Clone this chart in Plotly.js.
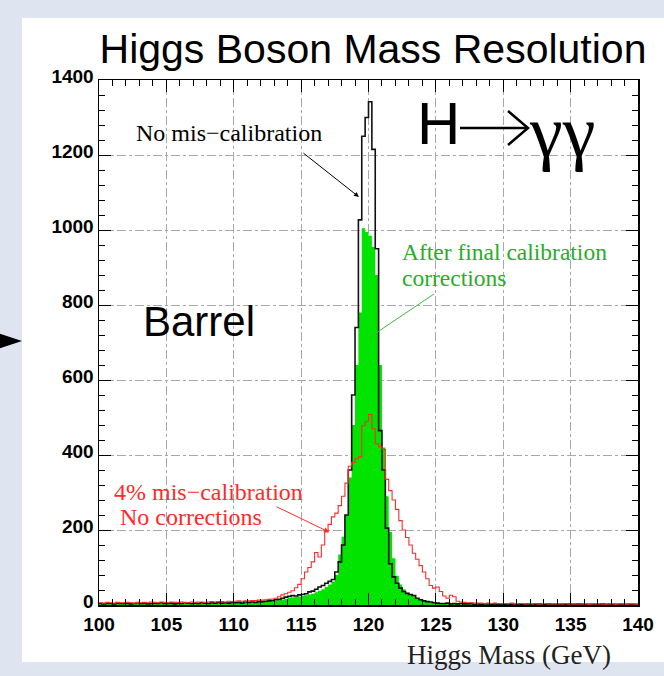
<!DOCTYPE html>
<html>
<head>
<meta charset="utf-8">
<script src="https://cdn.plot.ly/plotly-3.0.1.min.js"></script>
<style>html,body{margin:0;padding:0;background:#dee5f1;}#chart{width:664px;height:676px;}</style>
</head>
<body>
<div id="chart"></div>
<script>
// Histogram binning (GeV)
const binStart = 100;
const binWidth = 0.25;

// No mis-calibration (black outline), 0.25 GeV bins from 100 to 140
const noMiscal = [
  4,3,5,4, 3,5,4,4, 5,3,4,6, 4,5,3,4, 5,4,6,4,
  4,5,3,5, 4,6,5,4, 5,4,6,5, 4,6,5,7, 5,6,5,6,
  6,7,5,8, 7,8,7,9, 9,10,11,12, 14,15,18,21, 23,25,24,27,
  28,30,35,37, 42,48,52,58, 63,68,88,115, 160,240,360,560, 740,1027,1250,1300,
  1342,1215,950,465, 360,205,110,75, 58,45,36,31, 28,25,18,14, 11,9,8,6,
  5,4,4,5, 3,4,3,4, 3,3,4,2, 3,2,3,3, 2,3,2,3,
  2,3,2,2, 3,2,2,3, 2,2,3,2, 2,3,2,2, 2,2,2,3,
  2,2,3,2, 2,2,2,2, 2,3,2,2, 2,2,2,2, 2,2,2,2
];

// After final calibration corrections (green fill)
const afterCalib = [
  3,4,3,4, 4,3,4,3, 4,4,3,5, 3,4,4,3, 4,5,4,4,
  3,4,4,5, 4,5,4,4, 5,4,5,4, 4,5,5,6, 5,5,6,5,
  6,6,5,7, 6,7,7,8, 8,9,10,11, 12,13,15,17, 19,20,22,23,
  24,26,28,30, 34,38,42,48, 55,62,80,135, 182,240,340,480, 640,780,1005,995,
  985,955,880,640, 420,290,195,125, 78,55,42,33, 27,22,18,14, 11,9,7,5,
  4,4,3,4, 3,3,3,2, 3,2,3,2, 2,3,2,2, 2,2,3,2,
  2,2,2,2, 2,3,2,2, 2,2,2,2, 2,2,2,2, 2,2,2,2,
  2,2,2,2, 2,2,2,2, 2,2,2,2, 2,2,2,2, 2,2,2,2
];

// 4% mis-calibration, no corrections (red outline)
const miscal4 = [
  6,5,7,6, 5,7,6,6, 7,6,5,7, 6,7,6,8, 7,6,8,7,
  6,8,7,7, 8,7,6,8, 7,8,8,7, 8,9,8,9, 9,8,10,9,
  10,11,10,11, 11,12,12,13, 13,14,15,16, 18,22,27,30, 34,38,46,55,
  70,88,100,115, 140,128,160,195, 215,235,245,265, 290,325,370,380, 390,395,478,490,
  508,470,430,422, 415,335,305,280, 255,225,200,180, 160,138,122,105, 88,70,52,45,
  48,36,24,18, 26,22,10,8, 7,6,6,5, 5,5,4,5, 4,5,4,4,
  4,4,5,3, 4,4,3,4, 3,4,3,3, 4,3,3,3, 3,3,4,3,
  3,3,3,3, 3,2,3,3, 3,3,2,3, 3,2,3,3, 2,3,3,2
];

const xTickVals = [100,105,110,115,120,125,130,135,140];
const yTickVals = [0,200,400,600,800,1000,1200,1400];

// step-histogram helpers
const edges = noMiscal.map((_, i) => binStart + i * binWidth).concat([binStart + noMiscal.length * binWidth]);
const stepY = arr => arr.concat([arr[arr.length - 1]]);

// plot-area pixel geometry -> paper coordinates
const L = 99, R = 638, T = 80, B = 605;
const px = x => (x - L) / (R - L);
const py = y => (B - y) / (B - T);

const SANS = "'Liberation Sans', Arial, Helvetica, sans-serif";
const SERIF = "'Liberation Serif', 'Times New Roman', Times, serif";

const traces = [
  {x: edges, y: stepY(afterCalib), type: 'scatter', mode: 'lines', line: {shape: 'hv', width: 0, color: '#00e400'},
   fill: 'tozeroy', fillcolor: '#00e400', hoverinfo: 'skip'},
  {x: edges, y: stepY(noMiscal), type: 'scatter', mode: 'lines', line: {shape: 'hv', width: 1.6, color: '#111111'}},
  {x: edges, y: stepY(miscal4), type: 'scatter', mode: 'lines', line: {shape: 'hv', width: 1.1, color: '#ff2a2a'}}
];

const axisCommon = {
  showline: true, linecolor: 'black', linewidth: 1.5, mirror: 'allticks',
  ticks: 'inside', ticklen: 12, tickwidth: 1, tickcolor: 'black',
  showgrid: true, gridcolor: '#a8a8a8', griddash: 'dashdot', gridwidth: 1,
  zeroline: false,
  tickfont: {family: SANS, size: 19, color: 'black', weight: 'bold'}
};

const layout = {
  width: 664, height: 676,
  margin: {l: L, r: 664 - R, t: T, b: 676 - B},
  paper_bgcolor: '#dee5f1', plot_bgcolor: 'white',
  showlegend: false,
  title: {text: 'Higgs Boson Mass Resolution', font: {family: SANS, size: 41, color: 'black'},
          xref: 'paper', x: px(373), xanchor: 'center', yref: 'container', y: 1 - 49 / 676, yanchor: 'middle'},
  xaxis: Object.assign({}, axisCommon, {range: [100, 140], tickvals: xTickVals, ticktext: xTickVals.map(String),
    ticklabelstandoff: 2,
    minor: {dtick: 1, ticks: 'inside', ticklen: 6, tickcolor: 'black', showgrid: false}}),
  yaxis: Object.assign({}, axisCommon, {range: [0, 1400], tickvals: yTickVals, ticktext: yTickVals.map(String),
    ticklabelshift: -4,
    minor: {dtick: 40, ticks: 'inside', ticklen: 6, tickcolor: 'black', showgrid: false}}),
  shapes: [
    {type: 'rect', xref: 'paper', yref: 'paper', layer: 'below', x0: px(22), x1: px(680), y0: py(18), y1: py(662),
     fillcolor: 'white', line: {width: 0}},
    {type: 'path', xref: 'paper', yref: 'paper', path: `M ${px(-2)} ${py(333)} L ${px(22)} ${py(341)} L ${px(-2)} ${py(349)} Z`,
     fillcolor: 'black', line: {width: 0}},
    // H -> arrow
    {type: 'line', xref: 'paper', yref: 'paper', x0: px(460), x1: px(526), y0: py(128), y1: py(128), line: {color: 'black', width: 2.5}},
    {type: 'path', xref: 'paper', yref: 'paper', path: `M ${px(508)} ${py(111)} L ${px(528)} ${py(128)} L ${px(508)} ${py(145)}`,
     line: {color: 'black', width: 2.5}},
    // green pointer
    {type: 'line', xref: 'paper', yref: 'paper', x0: px(434), y0: py(294), x1: px(370), y1: py(337), line: {color: '#3cb83c', width: 1}}
  ],
  annotations: [
    {xref: 'paper', yref: 'paper', x: px(438), y: py(124), text: 'H', showarrow: false, xanchor: 'center', yanchor: 'middle',
     font: {family: SANS, size: 60, color: 'black'}},
    {xref: 'paper', yref: 'paper', x: px(562), y: py(131), text: 'γγ', showarrow: false, xanchor: 'center', yanchor: 'middle',
     font: {family: SERIF, size: 74, color: 'black'}},
    {xref: 'paper', yref: 'paper', x: px(134), y: py(133), text: 'No mis−calibration', showarrow: false, xanchor: 'left', yanchor: 'middle',
     font: {family: SERIF, size: 24, color: 'black'}},
    {xref: 'paper', yref: 'paper', axref: 'pixel', ayref: 'pixel', x: px(359), y: py(197), ax: -57, ay: -45, text: '', showarrow: true,
     arrowhead: 2, arrowsize: 1, arrowwidth: 1, arrowcolor: 'black'},
    {xref: 'paper', yref: 'paper', x: px(400), y: py(252), text: 'After final calibration', showarrow: false, xanchor: 'left', yanchor: 'middle',
     font: {family: SERIF, size: 23.5, color: '#27ad27'}},
    {xref: 'paper', yref: 'paper', x: px(400), y: py(278), text: 'corrections', showarrow: false, xanchor: 'left', yanchor: 'middle',
     font: {family: SERIF, size: 23.5, color: '#27ad27'}},
    {xref: 'paper', yref: 'paper', x: px(141), y: py(321), text: 'Barrel', showarrow: false, xanchor: 'left', yanchor: 'middle',
     font: {family: SANS, size: 42, color: 'black'}},
    {xref: 'paper', yref: 'paper', x: px(112), y: py(492), text: '4% mis−calibration', showarrow: false, xanchor: 'left', yanchor: 'middle',
     font: {family: SERIF, size: 24, color: '#ff2a2a'}},
    {xref: 'paper', yref: 'paper', x: px(118), y: py(517), text: 'No corrections', showarrow: false, xanchor: 'left', yanchor: 'middle',
     font: {family: SERIF, size: 24, color: '#ff2a2a'}},
    {xref: 'paper', yref: 'paper', axref: 'pixel', ayref: 'pixel', x: px(329), y: py(532), ax: -54, ay: -26, text: '', showarrow: true,
     arrowhead: 2, arrowsize: 1, arrowwidth: 1, arrowcolor: '#ff2a2a'},
    {xref: 'paper', yref: 'paper', x: px(613), y: py(655), text: 'Higgs Mass (GeV)', showarrow: false, xanchor: 'right', yanchor: 'middle',
     font: {family: SERIF, size: 27, color: '#222'}}
  ]
};

Plotly.newPlot('chart', traces, layout, {displayModeBar: false, staticPlot: true});
</script>
</body>
</html>
